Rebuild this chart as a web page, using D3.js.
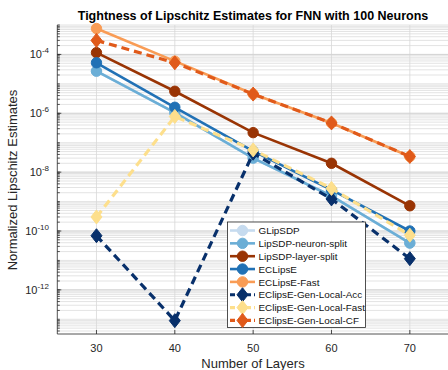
<!DOCTYPE html>
<html><head><meta charset="utf-8">
<script src="https://cdn.jsdelivr.net/npm/d3@7"></script>
<style>body{margin:0;background:#fff}svg{display:block;font-family:"Liberation Sans",Arial,sans-serif}</style>
</head><body><svg id="c" width="448" height="370"></svg>
<script>
const layers = [30, 40, 50, 60, 70];
const seriesNames = ["GLipSDP","LipSDP-neuron-split","LipSDP-layer-split","ECLipsE","ECLipsE-Fast","EClipsE-Gen-Local-Acc","EClipsE-Gen-Local-Fast","EClipsE-Gen-Local-CF"];
const gLipSDP        = [2.7e-5, 1.05e-6, 3.0e-8, 1.55e-9, 3.9e-11];
const neuronSplit    = [2.7e-5, 1.05e-6, 3.0e-8, 1.55e-9, 3.9e-11];
const layerSplit     = [1.15e-4, 5.6e-6, 2.2e-7, 2.0e-8, 7.2e-10];
const eclipse        = [5.2e-5, 1.6e-6, 5.2e-8, 2.5e-9, 1.0e-10];
const eclipseFast    = [7.6e-4, 5.9e-5, 4.5e-6, 4.7e-7, 3.4e-8];
const genLocalAcc    = [6.9e-11, 9e-14, 4.4e-8, 1.23e-9, 1.15e-11];
const genLocalFast   = [3.0e-10, 7.8e-7, 5.7e-8, 2.8e-9, 7.2e-11];
const genLocalCF     = [3.0e-4, 5.2e-5, 4.5e-6, 4.7e-7, 3.4e-8];
const seriesColors = ["#c6dbef","#6baed6","#993404","#2171b5","#f99c55","#08306b","#fddf8c","#e05a1a"];
const seriesMarkers = ["circle","circle","circle","circle","circle","diamond","diamond","diamond"];
const seriesDashed = [false,false,false,false,false,true,true,true];
const xTicks = [30, 40, 50, 60, 70];
const yTickExps = [-12, -10, -8, -6, -4];

const values = [gLipSDP, neuronSplit, layerSplit, eclipse, eclipseFast, genLocalAcc, genLocalFast, genLocalCF];
const series = seriesNames.map((n,i)=>({name:n, vals:values[i], color:seriesColors[i], marker:seriesMarkers[i], dashed:seriesDashed[i]}));

const svg = d3.select("#c");
const L = 57.3, R = 449, T = 25, B = 334;
const x = d3.scaleLinear().domain([25, 75]).range([L, R]);
const y = d3.scaleLog().domain([Math.pow(10,-13.5), 1e-3]).range([B, T]);

// grid
const grid = svg.append("g");
const minor = [];
for (let e = -14; e <= -3; e++) for (let m = 1; m <= 9; m++) {
  const v = m * Math.pow(10, e);
  if (v >= y.domain()[0] && v <= y.domain()[1]) minor.push(v);
}
grid.selectAll(".mg").data(minor).join("line")
  .attr("x1", L).attr("x2", R).attr("y1", d=>y(d)).attr("y2", d=>y(d))
  .attr("stroke", "#dcdcdc").attr("stroke-width", 0.8);
grid.selectAll(".xg").data(xTicks).join("line")
  .attr("x1", d=>x(d)).attr("x2", d=>x(d)).attr("y1", T).attr("y2", B)
  .attr("stroke", "#d8d8d8").attr("stroke-width", 0.8);
grid.selectAll(".yg").data(yTickExps).join("line")
  .attr("x1", L).attr("x2", R).attr("y1", d=>y(Math.pow(10,d))).attr("y2", d=>y(Math.pow(10,d)))
  .attr("stroke", "#d0d0d0").attr("stroke-width", 0.8);

// axes
const ax = svg.append("g").attr("stroke", "#262626").attr("stroke-width", 0.8);
ax.append("line").attr("x1", L).attr("x2", R).attr("y1", B).attr("y2", B);
ax.append("line").attr("x1", L).attr("x2", L).attr("y1", T).attr("y2", B);
ax.selectAll(".xt").data(xTicks).join("line")
  .attr("x1", d=>x(d)).attr("x2", d=>x(d)).attr("y1", B).attr("y2", B-4);
ax.selectAll(".ymt").data(minor).join("line")
  .attr("x1", L).attr("x2", L+2.5).attr("y1", d=>y(d)).attr("y2", d=>y(d));
ax.selectAll(".yt").data(yTickExps).join("line")
  .attr("x1", L).attr("x2", L+4).attr("y1", d=>y(Math.pow(10,d))).attr("y2", d=>y(Math.pow(10,d)));

svg.selectAll(".xl").data(xTicks).join("text")
  .attr("x", d=>x(d)).attr("y", 352).attr("text-anchor","middle")
  .attr("font-size", 11).attr("fill","#262626").text(d=>d);
const yl = svg.selectAll(".ylab").data(yTickExps).join("text")
  .attr("x", 49).attr("y", d=>y(Math.pow(10,d))+4).attr("text-anchor","end")
  .attr("font-size", 11).attr("fill","#262626");
yl.append("tspan").text("10");
yl.append("tspan").attr("dy", -5).attr("font-size", 8).text(d=>String(d));

svg.append("text").attr("x", 253).attr("y", 368).attr("text-anchor","middle")
  .attr("font-size", 13).attr("fill","#262626").text("Number of Layers");
svg.append("text").attr("transform","translate(17,180) rotate(-90)").attr("text-anchor","middle")
  .attr("font-size", 13).attr("fill","#262626").text("Normalized Lipschitz Estimates");
svg.append("text").attr("x", 253).attr("y", 20).attr("text-anchor","middle")
  .attr("font-size", 12.5).attr("font-weight","bold").attr("fill","#000")
  .text("Tightness of Lipschitz Estimates for FNN with 100 Neurons");

// series
const line = d3.line().x(d=>x(d.x)).y(d=>y(d.v));
function drawMarker(g, type, cx, cy, color) {
  if (type === "circle") {
    g.append("circle").attr("cx", cx).attr("cy", cy).attr("r", 5.2).attr("fill", color).attr("stroke", color);
  } else {
    const w = 5.5, h = 7;
    g.append("path").attr("d", `M${cx},${cy-h}L${cx+w},${cy}L${cx},${cy+h}L${cx-w},${cy}Z`)
      .attr("fill", color).attr("stroke", color);
  }
}
const sg = svg.append("g");
series.forEach(s => {
  const pts = layers.map((l,i)=>({x:l, v:s.vals[i]}));
  const g = sg.append("g");
  g.append("path").attr("d", line(pts)).attr("fill","none").attr("stroke", s.color)
    .attr("stroke-width", s.dashed ? 3.2 : 2.6).attr("stroke-dasharray", s.dashed ? "8,5" : null);
  pts.forEach(p => drawMarker(g, s.marker, x(p.x), y(p.v), s.color));
});

// legend
const lg = svg.append("g");
lg.append("rect").attr("x", 227.5).attr("y", 222).attr("width", 138).attr("height", 105.5)
  .attr("fill", "#fff").attr("stroke", "#262626").attr("stroke-width", 0.8);
series.forEach((s,i) => {
  const cy = 230.5 + i*12.85;
  const g = lg.append("g");
  g.append("line").attr("x1", 230).attr("x2", 255).attr("y1", cy).attr("y2", cy)
    .attr("stroke", s.color).attr("stroke-width", s.dashed ? 3.2 : 2.6)
    .attr("stroke-dasharray", s.dashed ? "5,3" : null);
  drawMarker(g, s.marker, 242.5, cy, s.color);
  g.append("text").attr("x", 258.5).attr("y", cy+3.6).attr("font-size", 9.9).attr("fill","#111").text(s.name);
});
</script></body></html>
